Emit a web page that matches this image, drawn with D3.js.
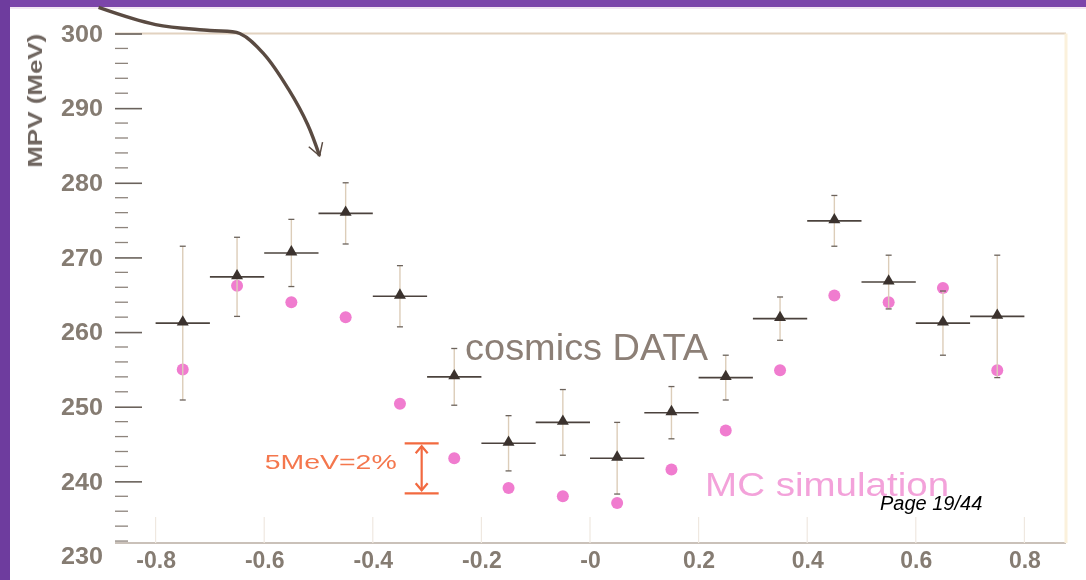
<!DOCTYPE html>
<html>
<head>
<meta charset="utf-8">
<script src="https://cdn.jsdelivr.net/npm/d3@7"></script>
<style>
  body { margin: 0; background: #fff; }
  svg { display: block; font-family: "Liberation Sans", Arial, sans-serif; }
</style>
</head>
<body>
<svg id="chart"></svg>
<script>
const width = 1086, height = 580;

// bin centres (eta-like) and the two series
const binCenters = [-0.75, -0.65, -0.55, -0.45, -0.35, -0.25, -0.15, -0.05, 0.05, 0.15, 0.25, 0.35, 0.45, 0.55, 0.65, 0.75];
const dataMPV = [261.2, 267.4, 270.6, 275.9, 264.8, 254.0, 245.1, 247.9, 243.1, 249.2, 253.9, 261.8, 274.9, 266.7, 261.2, 262.1];
const dataErr = [10.3, 5.3, 4.5, 4.1, 4.1, 3.8, 3.7, 4.4, 4.8, 3.5, 3.0, 2.9, 3.4, 3.6, 4.3, 8.2];
const mcMPV = [255.0, 266.2, 264.0, 262.0, 250.4, 243.1, 239.1, 238.0, 237.1, 241.6, 246.8, 254.9, 264.9, 264.0, 265.9, 254.9];
const binHalf = 0.05;

const xTicks = [-0.8, -0.6, -0.4, -0.2, 0, 0.2, 0.4, 0.6, 0.8];
const xTickLabels = ["-0.8", "-0.6", "-0.4", "-0.2", "-0", "0.2", "0.4", "0.6", "0.8"];
const yTicks = [230, 240, 250, 260, 270, 280, 290, 300];

// hand drawn arrow from the slide, in data units
const arrowPts = [[-0.905, 303.5], [-0.80, 301.2], [-0.70, 300.4], [-0.645, 300.0], [-0.60, 297.2], [-0.555, 292.5], [-0.52, 287.8], [-0.498, 283.6]];
const scaleBar = {x: -0.31, top: 245.1, bottom: 238.4};

const svg = d3.select("#chart").attr("width", width).attr("height", height);

svg.append("defs").append("filter").attr("id", "soft")
  .append("feGaussianBlur").attr("stdDeviation", 0.6);

// slide frame
svg.append("rect").attr("width", width).attr("height", height).attr("fill", "#fff");
svg.append("rect").attr("x", 0).attr("y", 0).attr("width", width).attr("height", 7).attr("fill", "#7c45aa");
svg.append("rect").attr("x", 0).attr("y", 7).attr("width", width).attr("height", 2).attr("fill", "#f3e6f3");
svg.append("rect").attr("x", 0).attr("y", 0).attr("width", 10).attr("height", height).attr("fill", "#6e3c9e");

const x = d3.scaleLinear().domain([-0.8, 0.8]).range([155.6, 1024.4]);
const y = d3.scaleLinear().domain([230, 300]).range([556, 33.5]);

const plotLeft = 115, plotRight = 1066, plotBottom = 543;

const g = svg.append("g").attr("filter", "url(#soft)");

// frame lines
g.append("line").attr("x1", plotLeft).attr("x2", plotRight).attr("y1", y(300)).attr("y2", y(300))
  .attr("stroke", "#e2d2c0").attr("stroke-width", 2);
g.append("line").attr("x1", plotLeft).attr("x2", plotRight).attr("y1", plotBottom).attr("y2", plotBottom)
  .attr("stroke", "#b9ada2").attr("stroke-width", 1.6);
g.append("line").attr("x1", plotRight).attr("x2", plotRight).attr("y1", y(300)).attr("y2", plotBottom)
  .attr("stroke", "#fbf1dc").attr("stroke-width", 3);

// Y axis: major ticks + labels
const yAxis = d3.axisRight(y).tickValues(yTicks).tickSize(27).tickFormat(d3.format("d"));
const yAx = g.append("g").attr("transform", `translate(${plotLeft},0)`).call(yAxis);
yAx.select(".domain").remove();
yAx.selectAll(".tick line").attr("stroke", "#6a625c").attr("stroke-width", 1.6)
  .filter(d => d === 230).remove();
yAx.selectAll(".tick text")
  .attr("x", -12).attr("text-anchor", "end")
  .attr("font-size", 24).attr("font-weight", "bold")
  .attr("fill", "#857b72").attr("font-family", "Liberation Sans, Arial, sans-serif")
  .attr("textLength", 42).attr("lengthAdjust", "spacingAndGlyphs");

// minor ticks every 2 MeV
const minor = d3.range(232, 300, 2).filter(v => v % 10 !== 0);
g.append("g").selectAll("line").data(minor).join("line")
  .attr("x1", plotLeft).attr("x2", plotLeft + 13)
  .attr("y1", d => y(d)).attr("y2", d => y(d))
  .attr("stroke", "#8d847c").attr("stroke-width", 1.3);

// y title
g.append("text")
  .attr("transform", `translate(42,${y(291)}) rotate(-90)`)
  .attr("text-anchor", "middle")
  .attr("font-size", 20).attr("font-weight", "bold").attr("fill", "#6f6660")
  .attr("textLength", 134).attr("lengthAdjust", "spacingAndGlyphs")
  .text("MPV (MeV)");

// X axis
const xAxis = d3.axisBottom(x).tickValues(xTicks).tickSize(0).tickFormat((d, i) => xTickLabels[i]);
const xAx = g.append("g").attr("transform", `translate(0,${plotBottom})`).call(xAxis);
xAx.select(".domain").remove();
xAx.selectAll(".tick text")
  .attr("y", 9).attr("dy", "0.71em")
  .attr("font-size", 23).attr("font-weight", "bold")
  .attr("fill", "#857b72").attr("font-family", "Liberation Sans, Arial, sans-serif");
g.append("g").selectAll("line").data(xTicks).join("line")
  .attr("x1", d => x(d)).attr("x2", d => x(d))
  .attr("y1", plotBottom).attr("y2", plotBottom - 26)
  .attr("stroke", "#efe8e0").attr("stroke-width", 1.2);

// MC simulation points
g.append("g").selectAll("circle").data(binCenters).join("circle")
  .attr("cx", d => x(d)).attr("cy", (d, i) => y(mcMPV[i]))
  .attr("r", 6).attr("fill", "#f07ccf");

// cosmics data: error bars
const bars = g.append("g");
bars.selectAll("line.v").data(binCenters).join("line").attr("class", "v")
  .attr("x1", d => x(d)).attr("x2", d => x(d))
  .attr("y1", (d, i) => y(dataMPV[i] + dataErr[i])).attr("y2", (d, i) => y(dataMPV[i] - dataErr[i]))
  .attr("stroke", "#dccdb9").attr("stroke-width", 1.4);
bars.selectAll("line.h").data(binCenters).join("line").attr("class", "h")
  .attr("x1", d => x(d - binHalf)).attr("x2", d => x(d + binHalf))
  .attr("y1", (d, i) => y(dataMPV[i])).attr("y2", (d, i) => y(dataMPV[i]))
  .attr("stroke", "#4c433c").attr("stroke-width", 1.6);
[1, -1].forEach(s => {
  bars.append("g").selectAll("line").data(binCenters).join("line")
    .attr("x1", d => x(d) - 3).attr("x2", d => x(d) + 3)
    .attr("y1", (d, i) => y(dataMPV[i] + s * dataErr[i])).attr("y2", (d, i) => y(dataMPV[i] + s * dataErr[i]))
    .attr("stroke", "#6c635c").attr("stroke-width", 1.3);
});
g.append("g").selectAll("path").data(binCenters).join("path")
  .attr("transform", (d, i) => `translate(${x(d)},${y(dataMPV[i]) - 1})`)
  .attr("d", d3.symbol(d3.symbolTriangle, 62))
  .attr("fill", "#3a332e");

// annotations
g.append("text").attr("x", x(-0.23)).attr("y", y(256.2))
  .attr("font-size", 36).attr("fill", "#8c7f76")
  .attr("textLength", 243).attr("lengthAdjust", "spacingAndGlyphs")
  .text("cosmics DATA");
g.append("text").attr("x", x(0.212)).attr("y", y(238.1))
  .attr("font-size", 34).attr("fill", "#f3a2da")
  .attr("textLength", 244).attr("lengthAdjust", "spacingAndGlyphs")
  .text("MC simulation");
g.append("text").attr("x", x(-0.599)).attr("y", y(241.7))
  .attr("font-size", 21).attr("fill", "#f4774e")
  .attr("textLength", 132).attr("lengthAdjust", "spacingAndGlyphs")
  .text("5MeV=2%");

// 5 MeV scale bracket
const sb = g.append("g").attr("stroke", "#f2693f").attr("stroke-width", 2.2).attr("fill", "none");
[scaleBar.top, scaleBar.bottom].forEach(v => {
  sb.append("line").attr("x1", x(scaleBar.x) - 17).attr("x2", x(scaleBar.x) + 17)
    .attr("y1", y(v)).attr("y2", y(v));
});
sb.append("line").attr("x1", x(scaleBar.x)).attr("x2", x(scaleBar.x))
  .attr("y1", y(scaleBar.top) + 3).attr("y2", y(scaleBar.bottom) - 3);
sb.append("path").attr("d", d3.line()([[x(scaleBar.x) - 6, y(scaleBar.top) + 10], [x(scaleBar.x), y(scaleBar.top) + 3], [x(scaleBar.x) + 6, y(scaleBar.top) + 10]]));
sb.append("path").attr("d", d3.line()([[x(scaleBar.x) - 6, y(scaleBar.bottom) - 10], [x(scaleBar.x), y(scaleBar.bottom) - 3], [x(scaleBar.x) + 6, y(scaleBar.bottom) - 10]]));

// hand drawn arrow
svg.select("defs").append("marker").attr("id", "vhead")
  .attr("viewBox", "-12 -8 14 16").attr("markerWidth", 5).attr("markerHeight", 6)
  .attr("refX", 0).attr("refY", 0).attr("orient", "auto").attr("markerUnits", "strokeWidth")
  .append("path").attr("d", "M-10,-6 L0,0 L-10,6")
  .attr("fill", "none").attr("stroke", "#5a4b42").attr("stroke-width", 1.2);
g.append("path")
  .attr("d", d3.line().x(d => x(d[0])).y(d => y(d[1])).curve(d3.curveCatmullRom)(arrowPts))
  .attr("fill", "none").attr("stroke", "#5a4b42").attr("stroke-width", 3.4)
  .attr("marker-end", "url(#vhead)");

// slide page number (sharp overlay)
svg.append("text").attr("x", x(0.534)).attr("y", y(236.1))
  .attr("font-size", 20).attr("font-style", "italic").attr("fill", "#000")
  .text("Page 19/44");
</script>
</body>
</html>
